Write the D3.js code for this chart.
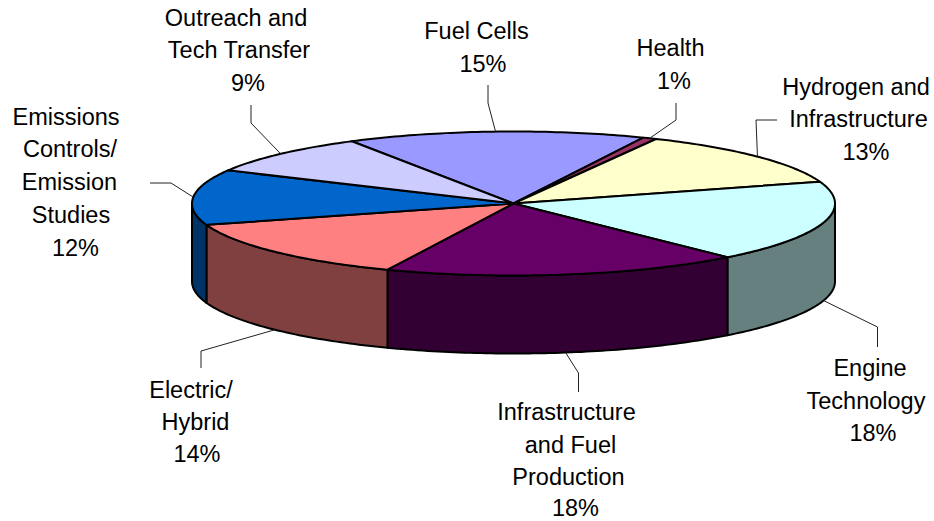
<!DOCTYPE html>
<html>
<head>
<meta charset="utf-8">
<script src="https://cdn.jsdelivr.net/npm/d3@7"></script>
<style>
  html, body { margin: 0; padding: 0; background: #fff; }
  svg { display: block; }
  text { font-family: "Liberation Sans", Arial, sans-serif; font-size: 23.5px; fill: #000; text-anchor: middle; }
</style>
</head>
<body>
<svg width="934" height="521"></svg>
<script>
var categories = ["Fuel Cells", "Health", "Hydrogen and Infrastructure", "Engine Technology",
  "Infrastructure and Fuel Production", "Electric/ Hybrid", "Emissions Controls/ Emission Studies",
  "Outreach and Tech Transfer"];
var values = [15.0, 0.7, 12.8, 18.3, 18.0, 13.8, 12.4, 9.0];
var colors = ["#9999ff", "#993366", "#ffffcc", "#ccffff", "#660066", "#ff8080", "#0066cc", "#ccccff"];

var labelLines = [
  ["Fuel Cells"],
  ["Health"],
  ["Hydrogen and", "Infrastructure"],
  ["Engine", "Technology"],
  ["Infrastructure", "and Fuel", "Production"],
  ["Electric/", "Hybrid"],
  ["Emissions", "Controls/", "Emission", "Studies"],
  ["Outreach and", "Tech Transfer"]
];

// layout only: centre x and baseline y of every label line (percent line is last)
var labelPos = [
  [[476.5, 38.5], [483, 72]],
  [[670.5, 56], [674, 89]],
  [[856, 94.5], [858.5, 127], [866, 160]],
  [[870, 375.5], [866, 408.5], [873, 441]],
  [[566.5, 419.5], [570.5, 453], [568.5, 485], [575.5, 516]],
  [[191, 397.5], [195.5, 430], [197, 462]],
  [[66, 124.5], [70, 157], [69.5, 190], [71, 223], [75.5, 256]],
  [[236, 25.5], [239, 58], [248, 91]]
];
// elbow and end point of each leader
var leaders = [
  [[488, 103], [488, 85]],
  [[676, 120], [676, 103]],
  [[756, 120], [777, 120]],
  [[877.5, 327], [877.5, 347]],
  [[578.5, 373], [578.5, 392]],
  [[201, 351], [201, 368]],
  [[171, 183], [150, 183]],
  [[251, 123], [251, 105]]
];

var svg = d3.select("svg");

var cx = 513.5, cy = 203.5, rx = 321.5, ry = 72, depth = 78;

var x = d3.scaleLinear().domain([-1, 1]).range([cx - rx, cx + rx]);
var y = d3.scaleLinear().domain([-1, 1]).range([cy + ry, cy - ry]);

var startAngle = -30.2 * Math.PI / 180;
var arcs = d3.pie().sort(null).startAngle(startAngle).endAngle(startAngle + 2 * Math.PI)(values);

var line = d3.line();

function rim(a0, a1, dy) {
  var n = Math.max(2, Math.ceil((a1 - a0) * 60));
  return d3.range(n + 1).map(function(i) {
    var a = a0 + (a1 - a0) * i / n;
    return [x(Math.sin(a)), y(Math.cos(a)) + dy];
  });
}

function halfColor(c) {
  var r = d3.rgb(c);
  return d3.rgb(r.r / 2, r.g / 2, r.b / 2).formatHex();
}

// side walls, only the part of the rim facing the viewer
var walls = svg.append("g");
arcs.forEach(function(d, i) {
  var a0 = Math.max(d.startAngle, Math.PI / 2), a1 = Math.min(d.endAngle, 3 * Math.PI / 2);
  if (a1 <= a0) return;
  var pts = rim(a0, a1, 0).concat(rim(a0, a1, depth).reverse());
  walls.append("path")
    .attr("d", line(pts) + "Z")
    .attr("fill", halfColor(colors[i]))
    .attr("stroke", "#000")
    .attr("stroke-width", 2)
    .attr("stroke-linejoin", "round");
});

// top faces
var tops = svg.append("g");
arcs.forEach(function(d, i) {
  var pts = [[x(0), y(0)]].concat(rim(d.startAngle, d.endAngle, 0));
  tops.append("path")
    .attr("d", line(pts) + "Z")
    .attr("fill", colors[i])
    .attr("stroke", "#000")
    .attr("stroke-width", 2)
    .attr("stroke-linejoin", "round");
});

// leader lines start on the rim at each slice's middle angle
var lead = svg.append("g");
arcs.forEach(function(d, i) {
  var a = (d.startAngle + d.endAngle) / 2;
  var start = [x(Math.sin(a)), y(Math.cos(a)) + (Math.cos(a) < 0 ? depth : 0)];
  lead.append("path")
    .attr("d", line([start].concat(leaders[i])))
    .attr("fill", "none")
    .attr("stroke", "#222")
    .attr("stroke-width", 1);
});

var labels = svg.append("g");
categories.forEach(function(c, i) {
  labelLines[i].concat([Math.round(values[i]) + "%"]).forEach(function(s, j) {
    labels.append("text")
      .attr("x", labelPos[i][j][0])
      .attr("y", labelPos[i][j][1])
      .text(s);
  });
});
</script>
</body>
</html>
